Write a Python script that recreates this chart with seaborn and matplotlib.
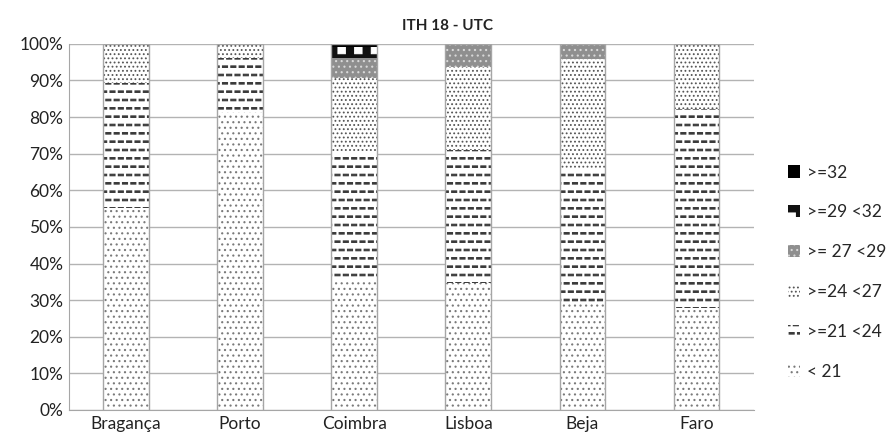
import warnings
import numpy as np
import pandas as pd
import matplotlib
matplotlib.use("Agg")
import matplotlib.pyplot as plt
from matplotlib import hatch as mhatch
from matplotlib.path import Path
from matplotlib.patches import Patch
import seaborn as sns

warnings.filterwarnings("ignore")

# Données (% par classe d'ITH)
cidades = ["Bragança", "Porto", "Coimbra", "Lisboa", "Beja", "Faro"]
classes = ["< 21", ">=21 <24", ">=24 <27", ">= 27 <29", ">=29 <32", ">=32"]
menos21 = [55.2, 81.5, 35.0, 34.6, 29.4, 27.9]
de21a24 = [34.0, 14.7, 35.1, 36.4, 36.6, 54.3]
de24a27 = [10.8, 3.8, 20.5, 22.6, 29.8, 17.8]
de27a29 = [0.0, 0.0, 5.5, 6.4, 4.2, 0.0]
de29a32 = [0.0, 0.0, 3.0, 0.0, 0.0, 0.0]
mais32 = [0.0, 0.0, 0.9, 0.0, 0.0, 0.0]
series = [menos21, de21a24, de24a27, de27a29, de29a32, mais32]


# motifs de hachures "à la Excel" : tirets et petits carrés
def _rect(hw, hh):
    v = np.array([[-hw, -hh], [hw, -hh], [hw, hh], [-hw, hh], [-hw, -hh]])
    c = np.array([Path.MOVETO, Path.LINETO, Path.LINETO, Path.LINETO, Path.CLOSEPOLY],
                 dtype=Path.code_type)
    return v, c


class DashHatch(mhatch.Shapes):
    filled = True
    size = 1.0

    def __init__(self, hatch, density):
        self.num_rows = hatch.count('_') * density
        self.shape_vertices, self.shape_codes = _rect(0.3, 0.09)
        super().__init__(hatch, density)


class SquareHatch(mhatch.Shapes):
    filled = True
    size = 1.0

    def __init__(self, hatch, density):
        self.num_rows = hatch.count('#') * density
        self.shape_vertices, self.shape_codes = _rect(0.22, 0.22)
        super().__init__(hatch, density)


mhatch._hatch_types.extend([DashHatch, SquareHatch])

# (face, couleur hachure, hachure)
styles = [
    ("white", "#7a7a7a", "..."),
    ("white", "#3a3a3a", "__"),
    ("white", "#555555", "...."),
    ("#8f8f8f", "#d8d8d8", "..."),
    ("#111111", "white", "#"),
    ("black", "black", ""),
]

sns.set_style("white")
plt.rcParams['font.family'] = ['Lato', 'DejaVu Sans']
plt.rcParams['hatch.linewidth'] = 0.8

fig = plt.figure(figsize=(8.95, 4.38), dpi=100)
ax = fig.add_axes([0.077, 0.064, 0.765, 0.836])

bottom = np.zeros(len(cidades))
for vals, (fc, hc, h) in zip(series, styles):
    df = pd.DataFrame({"cidade": cidades, "pct": vals})
    sns.barplot(data=df, x="cidade", y="pct", bottom=bottom, width=0.4,
                color="white", ax=ax, zorder=3)
    for p in ax.containers[-1]:
        p.set_facecolor(fc)
        p.set_edgecolor(hc)
        p.set_hatch(h)
        p.set_linewidth(0)
    bottom = bottom + np.array(vals)

# contour gris des barres
tot = pd.DataFrame({"cidade": cidades, "pct": bottom})
sns.barplot(data=tot, x="cidade", y="pct", width=0.4, fill=False,
            edgecolor="#a6a6a6", linewidth=1, ax=ax, zorder=4)

ax.set_ylim(0, 100)
ax.set_xlim(-0.5, len(cidades) - 0.5)
ax.set_yticks(np.arange(0, 101, 10))
ax.set_yticklabels([f"{v}%" for v in range(0, 101, 10)])
ax.yaxis.grid(True, color="#b3b3b3", linewidth=1)
ax.set_axisbelow(True)
ax.set_xlabel("")
ax.set_ylabel("")
ax.tick_params(axis="both", labelsize=12.5, length=0, pad=4, colors="#222222")
for s in ["top", "right"]:
    ax.spines[s].set_visible(False)
for s in ["left", "bottom"]:
    ax.spines[s].set_color("#a6a6a6")

fig.text(0.5, 0.94, "ITH 18 - UTC", ha="center", va="center",
         fontsize=11, fontweight="bold", color="#222222")

handles = [Patch(facecolor=fc, edgecolor=hc, hatch=h, linewidth=0)
           for fc, hc, h in styles]
fig.legend(handles[::-1], classes[::-1], loc="center left",
           bbox_to_anchor=(0.88, 0.378), frameon=False, fontsize=12.5,
           handlelength=0.7, handleheight=0.7, handletextpad=0.4,
           labelspacing=1.38, borderpad=0, borderaxespad=0)

fig.savefig("out.png", dpi=100)
